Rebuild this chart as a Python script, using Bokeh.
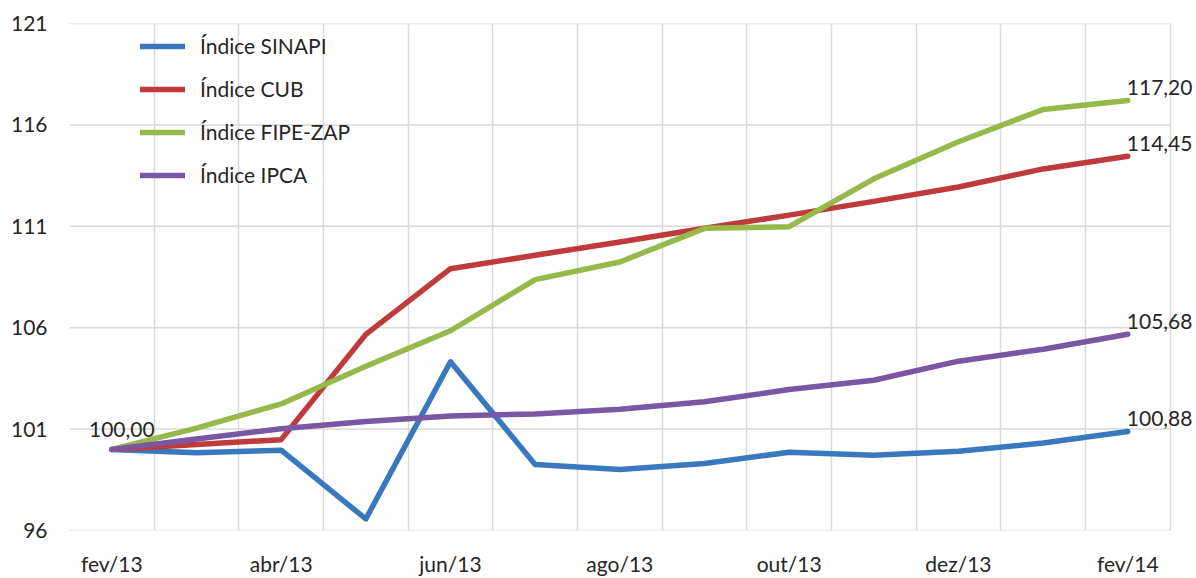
from bokeh.plotting import figure
from bokeh.models import FixedTicker, ColumnDataSource, LabelSet, Legend, LegendItem
from bokeh.core.properties import value
from bokeh.embed import file_html
from bokeh.resources import INLINE

months = ["fev/13", "mar/13", "abr/13", "mai/13", "jun/13", "jul/13", "ago/13",
          "set/13", "out/13", "nov/13", "dez/13", "jan/14", "fev/14"]
sinapi = [100.00, 99.83, 99.96, 96.57, 104.32, 99.26, 99.01, 99.30, 99.86, 99.71, 99.91, 100.31, 100.88]
cub = [100.00, 100.24, 100.48, 105.67, 108.91, 109.57, 110.23, 110.90, 111.55, 112.23, 112.94, 113.83, 114.45]
fipe = [100.00, 101.05, 102.24, 104.10, 105.85, 108.37, 109.24, 110.90, 110.98, 113.34, 115.17, 116.76, 117.20]
ipca = [100.00, 100.51, 101.02, 101.37, 101.65, 101.75, 101.98, 102.35, 102.95, 103.41, 104.35, 104.94, 105.68]
series_names = ["Índice SINAPI", "Índice CUB", "Índice FIPE-ZAP", "Índice IPCA"]
colors = ["#3a78be", "#bf3b3b", "#97b84a", "#7a57a3"]
y_ticks = [96, 101, 106, 111, 116, 121]

FONT = "Lato"
FS = "21px"
TXT = "#262626"
GRID = "#d9d9d9"

n = len(months)
xs = [i + 0.5 for i in range(n)]

p = figure(width=1196, height=578, x_range=(0, n + 0.3), y_range=(96, 121),
           output_backend="svg", toolbar_location=None,
           min_border_left=69, min_border_right=1, min_border_top=23, min_border_bottom=43)
p.outline_line_color = None
p.background_fill_color = "white"

# vertical grid at category boundaries
p.xgrid.ticker = FixedTicker(ticks=list(range(1, n + 1)))
p.xgrid.grid_line_color = GRID
p.xgrid.grid_line_width = 1.5
# horizontal grid limited to the category area
p.ygrid.grid_line_color = None
p.segment(x0=[0] * len(y_ticks), x1=[n] * len(y_ticks), y0=y_ticks, y1=y_ticks,
          line_color=GRID, line_width=1.5, level="underlay")

# axes
p.yaxis.ticker = FixedTicker(ticks=y_ticks)
p.xaxis.ticker = FixedTicker(ticks=xs[::2])
p.xaxis.major_label_overrides = {xs[i]: months[i] for i in range(0, n, 2)}
for ax in (p.xaxis, p.yaxis):
    ax.axis_line_color = None
    ax.major_tick_line_color = None
    ax.minor_tick_line_color = None
    ax.major_tick_out = 0
    ax.major_tick_in = 0
    ax.major_label_text_font = FONT
    ax.major_label_text_font_size = FS
    ax.major_label_text_color = TXT
p.yaxis.major_label_standoff = 22
p.xaxis.major_label_standoff = 20

renderers = []
for vals, col in zip([sinapi, cub, fipe, ipca], colors):
    r = p.line(xs, vals, line_color=col, line_width=5.5, line_cap="round", line_join="round")
    renderers.append(r)

legend = Legend(items=[LegendItem(label=nm, renderers=[r]) for nm, r in zip(series_names, renderers)],
                location=(71, 343))
legend.border_line_color = None
legend.background_fill_alpha = 0
legend.glyph_width = 45
legend.glyph_height = 20
legend.label_height = 20
legend.spacing = 18
legend.label_standoff = 15
legend.padding = 10
legend.margin = 0
legend.label_text_font = FONT
legend.label_text_font_size = FS
legend.label_text_color = TXT
p.add_layout(legend)

def fmt(v):
    return f"{v:.2f}".replace(".", ",")

end_src = ColumnDataSource(dict(x=[xs[-1]] * 4,
                                y=[s[-1] for s in (sinapi, cub, fipe, ipca)],
                                t=[fmt(s[-1]) for s in (sinapi, cub, fipe, ipca)]))
p.add_layout(LabelSet(x="x", y="y", text="t", source=end_src, x_offset=-1, y_offset=13,
                      text_align="left", text_baseline="middle", text_font=value(FONT),
                      text_font_size=value(FS), text_color=TXT))
start_src = ColumnDataSource(dict(x=[xs[0]], y=[sinapi[0]], t=[fmt(sinapi[0])]))
p.add_layout(LabelSet(x="x", y="y", text="t", source=start_src, x_offset=10, y_offset=20,
                      text_align="center", text_baseline="middle", text_font=value(FONT),
                      text_font_size=value(FS), text_color=TXT))

open("out.html", "w").write(file_html(p, INLINE))
